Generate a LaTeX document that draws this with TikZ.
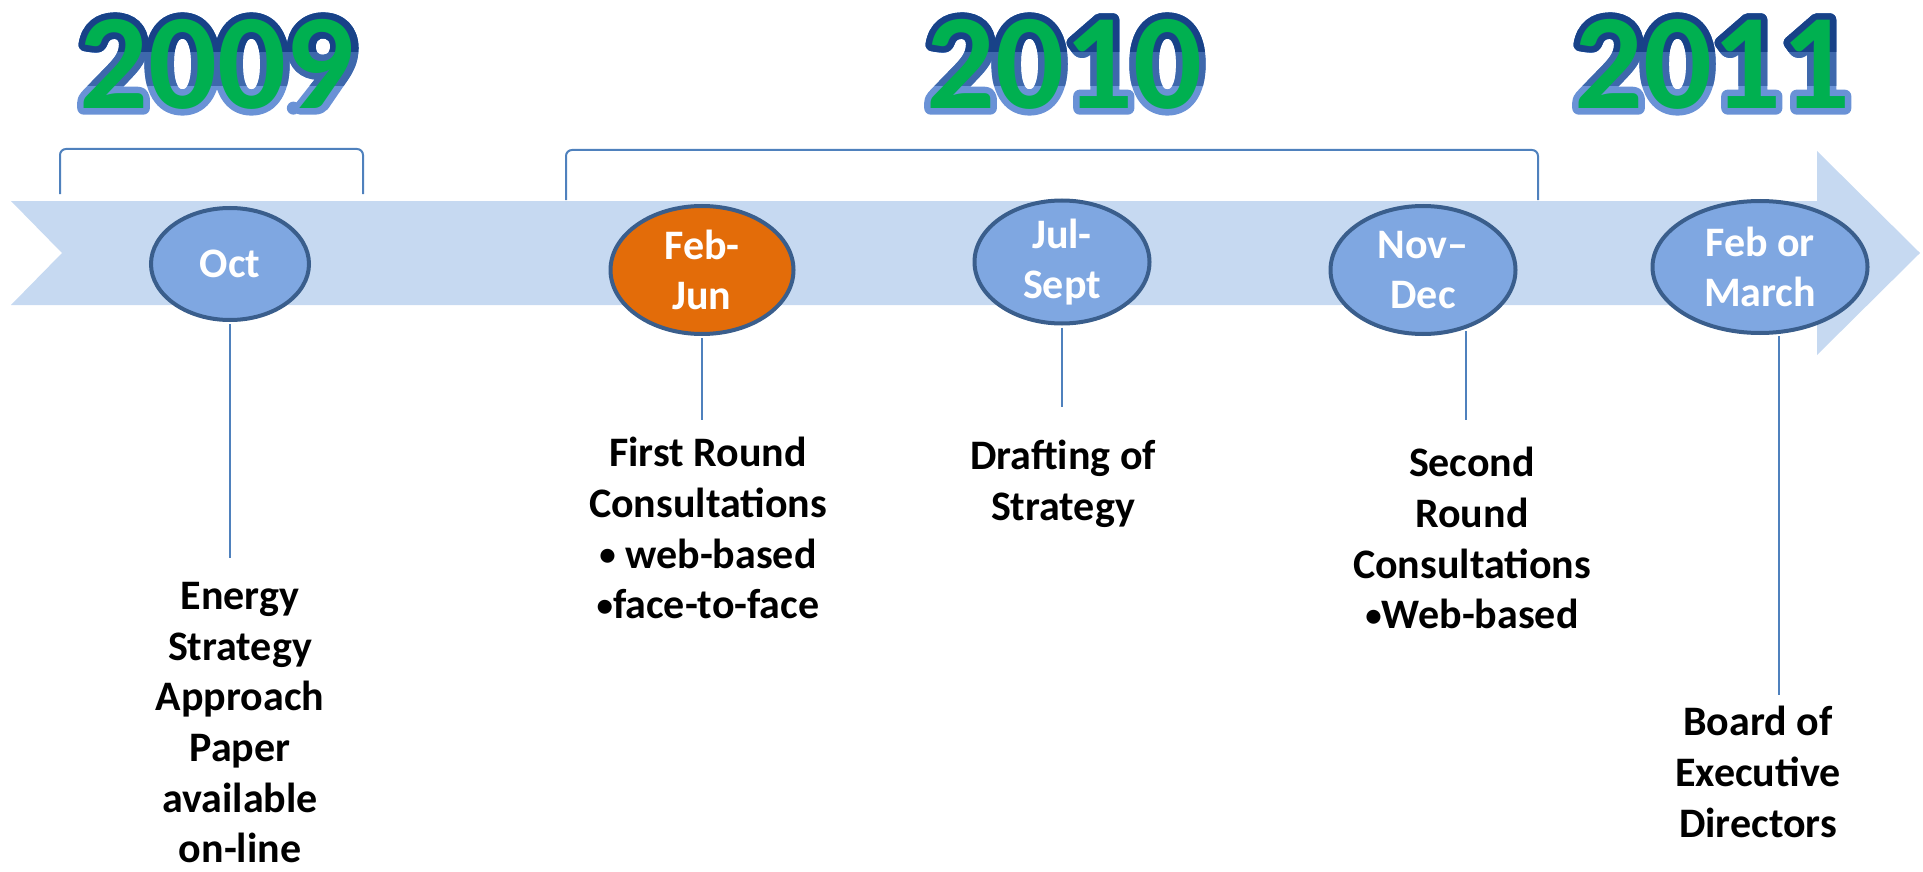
\documentclass[tikz,border=0pt]{standalone}
\usepackage{fontspec}
\setmainfont{Carlito}
\usetikzlibrary{shapes.geometric}
\definecolor{bandblue}{RGB}{198,217,241}
\definecolor{monthblue}{RGB}{127,167,225}
\definecolor{monthorange}{RGB}{227,108,9}
\definecolor{rimblue}{RGB}{58,94,140}
\definecolor{stemblue}{RGB}{79,129,189}
\definecolor{yeargreen}{RGB}{0,176,80}
\definecolor{yearhigh}{RGB}{24,66,136}
\definecolor{yearmid}{RGB}{62,104,172}
\definecolor{yearlow}{RGB}{106,146,214}
\newcommand*\stagefont{\fontsize{21}{25.3}\selectfont\bfseries}
\newcommand*\yearfont{\fontsize{68}{70}\selectfont\bfseries}
% small bullet for the list items
\newcommand*\itemdot{\raisebox{1.3pt}{\fontsize{16.5}{16.5}\selectfont•}}
% stroked glyph outlines (text render mode 1) for the year numbers
\newcommand*\rimtext[2]{{\color{#1}\special{pdf:literal direct 1 Tr 6.5 w 1 j 1 J}#2\special{pdf:literal direct 0 Tr}}}
\tikzset{
band/.style={fill=bandblue}, % the long arrow behind the months
period/.style={ellipse, draw=rimblue, line width=2pt, fill=monthblue, text=white, inner sep=0pt, align=center, font=\stagefont},
stem/.style={draw=stemblue, line width=1pt, shorten <=1pt},
brace/.style={draw=stemblue, line width=1pt, rounded corners=3pt},
note/.style={anchor=north, inner sep=0pt, align=center, font=\stagefont},
yearmark/.style={inner sep=0pt, font=\yearfont},
}
\begin{document}
\begin{tikzpicture}[x=0.5pt,y=0.5pt,yscale=-1,xscale=1]
\path[use as bounding box] (0,0) rectangle (1923,872);
%Arrow band
\fill[band] (11,201) -- (1817,201) -- (1817,151) -- (1920,253) -- (1817,355) -- (1817,305) -- (11,305) -- (62,253) -- cycle;
%Brackets
\draw[brace] (60,194) -- (60,149) -- (363,149) -- (363,194);
\draw[brace] (566,200) -- (566,150) -- (1538,150) -- (1538,200);
%Ellipses
\node[period, minimum width=79pt, minimum height=56pt] (oct) at (230,264) {Oct};
\node[period, fill=monthorange, minimum width=91.5pt, minimum height=64pt] (febjun) at (702,270) {Feb-\\Jun};
\node[period, minimum width=87.5pt, minimum height=61.5pt] (julsep) at (1062,262) {Jul-\\Sept};
\node[period, minimum width=92.5pt, minimum height=64pt] (novdec) at (1423,270) {Nov–\\Dec};
\node[period, minimum width=107.5pt, minimum height=66pt] (febmar) at (1760,267) {Feb or\\March};
%Straight Lines
\coordinate (octend) at (229,558);
\coordinate (febjunend) at (702,420);
\coordinate (julsepend) at (1063,407);
\coordinate (novdecend) at (1465,420);
\coordinate (febmarend) at (1779,695);
\draw[stem] (oct.south) -- (oct.south |- octend);
\draw[stem] (febjun.south) -- (febjun.south |- febjunend);
\draw[stem] (julsep.south) -- (julsep.south |- julsepend);
\draw[stem] (novdec.-54) -- (novdec.-54 |- novdecend);
\draw[stem] (febmar.-74) -- (febmar.-74 |- febmarend);
%Notes
\node[note] (octnote) at (240,582) {Energy\\Strategy\\Approach\\Paper\\available\\on-line};
\node[note] (febjunnote) at (708,437) {First Round\\Consultations\\\itemdot{} web-based\\\itemdot face-to-face};
\node[note] (julsepnote) at (1063,440) {Drafting of\\Strategy};
\node[note] (novdecnote) at (1472,447) {Second\\Round\\Consultations\\\itemdot Web-based};
\node[note] (febmarnote) at (1758,706) {Board of\\Executive\\Directors};
%Years: outline gets darker towards the top
\node[yearmark] (lo2009) at (217,64) {\rimtext{yearlow}{2009}};
\node[yearmark] (lo2010) at (1064,64) {\rimtext{yearlow}{2010}};
\node[yearmark] (lo2011) at (1712,64) {\rimtext{yearlow}{2011}};
\begin{scope}
\clip (0,0) rectangle (1923,86);
\node[yearmark] (mid2009) at (217,64) {\rimtext{yearmid}{2009}};
\node[yearmark] (mid2010) at (1064,64) {\rimtext{yearmid}{2010}};
\node[yearmark] (mid2011) at (1712,64) {\rimtext{yearmid}{2011}};
\end{scope}
\begin{scope}
\clip (0,0) rectangle (1923,52);
\node[yearmark] (hi2009) at (217,64) {\rimtext{yearhigh}{2009}};
\node[yearmark] (hi2010) at (1064,64) {\rimtext{yearhigh}{2010}};
\node[yearmark] (hi2011) at (1712,64) {\rimtext{yearhigh}{2011}};
\end{scope}
\node[yearmark, text=yeargreen] (y2009) at (217,64) {2009};
\node[yearmark, text=yeargreen] (y2010) at (1064,64) {2010};
\node[yearmark, text=yeargreen] (y2011) at (1712,64) {2011};
\end{tikzpicture}
\end{document}
